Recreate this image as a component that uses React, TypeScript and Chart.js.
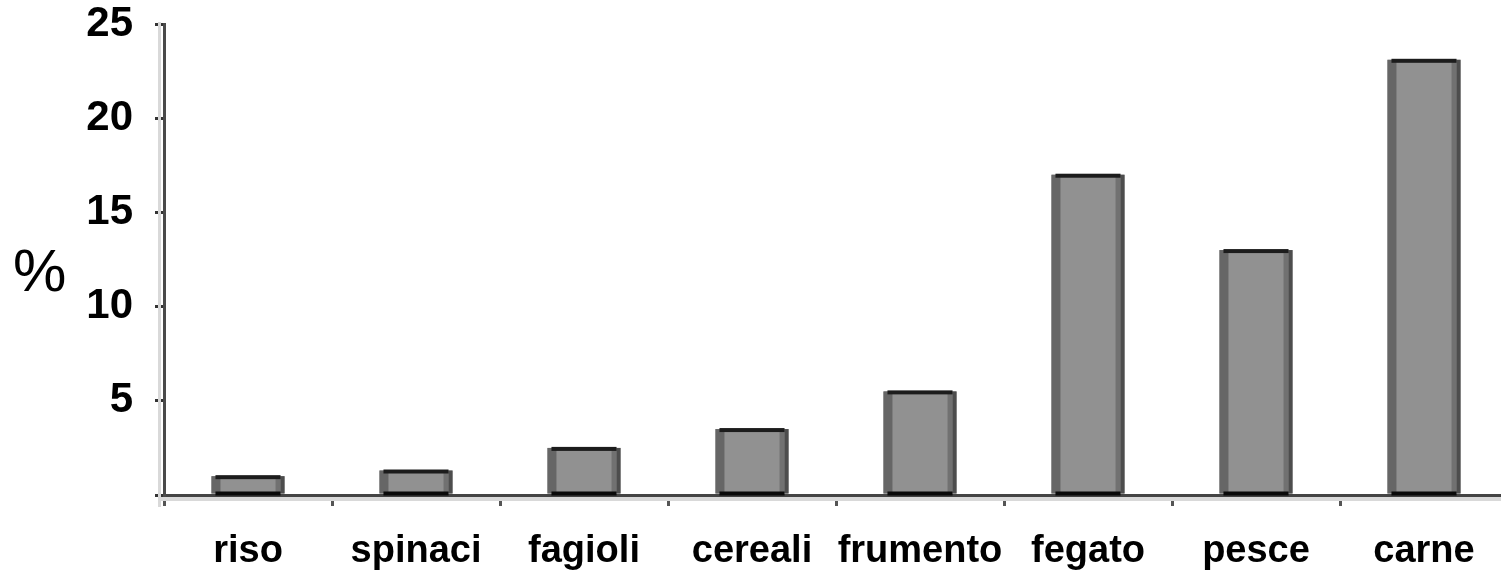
import React, { useEffect, useRef } from "react";
import { Chart, registerables } from "chart.js";

Chart.register(...registerables);

const categories = ["riso", "spinaci", "fagioli", "cereali", "frumento", "fegato", "pesce", "carne"];
const values = [1.0, 1.3, 2.5, 3.5, 5.5, 17.0, 13.0, 23.1];
const yTicks = [0, 5, 10, 15, 20, 25];
const yAxisLabel = "%";

const FONT = "'Liberation Sans', Arial, Helvetica, sans-serif";

const barStylePlugin = {
  id: "barStyle",
  beforeDatasetsDraw(chart: any) {
    const { ctx, chartArea } = chart;
    ctx.save();
    ctx.fillStyle = "#d9d9d9";
    ctx.fillRect(chartArea.left - 6, chartArea.top - 2, 3, chartArea.bottom - chartArea.top + 14);
    ctx.fillRect(chartArea.left - 6, chartArea.bottom + 2, chartArea.right - chartArea.left + 10, 4);
    ctx.restore();
  },
  afterDatasetsDraw(chart: any) {
    const { ctx } = chart;
    const meta = chart.getDatasetMeta(0);
    ctx.save();
    meta.data.forEach((bar: any) => {
      const { x, y, base, width } = bar.getProps(["x", "y", "base", "width"], true);
      const left = x - width / 2;
      const h = base - y;
      ctx.fillStyle = "#666666";
      ctx.fillRect(left, y, 9, h);
      ctx.fillStyle = "#717171";
      ctx.fillRect(left + width - 9, y, 5, h);
      ctx.fillStyle = "#4d4d4d";
      ctx.fillRect(left + width - 4, y, 4, h);
      ctx.fillStyle = "#1c1c1c";
      ctx.fillRect(left + 4, y - 1, width - 8, 4);
      ctx.fillStyle = "#0a0a0a";
      ctx.fillRect(left + 4, base - 2, width - 8, 4);
    });
    ctx.restore();
  },
};

export default function App() {
  const canvasRef = useRef<HTMLCanvasElement | null>(null);

  useEffect(() => {
    if (!canvasRef.current) return;
    const chart = new Chart(canvasRef.current, {
      type: "bar",
      data: {
        labels: categories,
        datasets: [
          {
            data: values,
            backgroundColor: "#919191",
            borderWidth: 0,
            categoryPercentage: 1,
            barPercentage: 0.435,
          },
        ],
      },
      plugins: [barStylePlugin],
      options: {
        responsive: false,
        animation: false,
        devicePixelRatio: 1,
        layout: { padding: { top: 24, right: 2, left: 0, bottom: 0 } },
        plugins: {
          legend: { display: false },
          tooltip: { enabled: false },
          title: { display: false },
        },
        scales: {
          x: {
            offset: true,
            grid: {
              offset: true,
              drawOnChartArea: false,
              drawTicks: true,
              tickLength: 11,
              lineWidth: 3,
              tickWidth: 3,
              color: "#555555",
              tickColor: "#555555",
            },
            border: { display: true, color: "#444444", width: 3 },
            ticks: {
              color: "#000000",
              padding: 23,
              maxRotation: 0,
              autoSkip: false,
              font: { family: FONT, size: 38, weight: "bold" },
            },
            afterFit(scale: any) {
              scale.height = 78;
              scale.paddingLeft = 0;
              scale.paddingRight = 0;
            },
          },
          y: {
            min: 0,
            max: 25,
            afterBuildTicks(scale: any) {
              scale.ticks = yTicks.map((v) => ({ value: v }));
            },
            grid: {
              drawOnChartArea: false,
              drawTicks: true,
              tickLength: 9,
              lineWidth: 3,
              tickWidth: 3,
              color: "#333333",
              tickColor: "#333333",
            },
            border: { display: true, color: "#4a4a4a", width: 3 },
            ticks: {
              color: "#000000",
              padding: 22,
              callback: (v: any) => (Number(v) === 0 ? "" : String(v)),
              font: { family: FONT, size: 42, weight: "bold" },
            },
            afterFit(scale: any) {
              scale.width = 164;
              scale.paddingTop = 0;
              scale.paddingBottom = 0;
            },
          },
        },
      },
    });
    return () => chart.destroy();
  }, []);

  return (
    <div
      style={{
        position: "fixed",
        left: 0,
        top: 0,
        width: 1501,
        height: 573,
        overflow: "hidden",
        background: "#ffffff",
      }}
    >
      <canvas ref={canvasRef} width={1510} height={573} style={{ display: "block" }} />
      <span
        style={{
          position: "absolute",
          left: 13,
          top: 241,
          fontFamily: FONT,
          fontSize: 60,
          lineHeight: 1,
          color: "#000000",
        }}
      >
        {yAxisLabel}
      </span>
    </div>
  );
}
